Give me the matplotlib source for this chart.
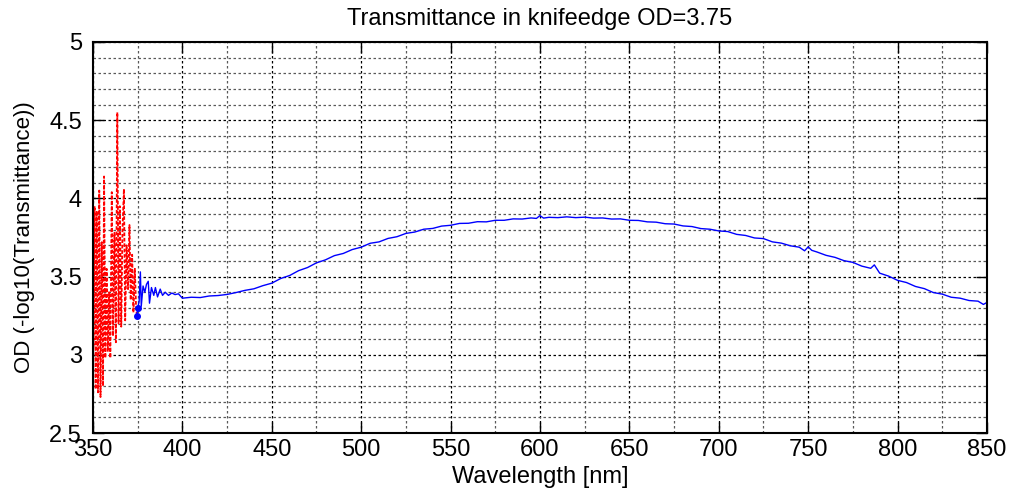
import matplotlib.pyplot as plt
from matplotlib.ticker import MultipleLocator, FormatStrFormatter

# datos leidos de la figura
# tramo rojo (ruido por debajo de ~375 nm)
rojo_wl = [350.3, 350.9, 351.5, 352.1, 352.8, 353.5, 354.2, 354.9, 355.6, 356.2,
           356.9, 357.6, 358.3, 359.0, 359.7, 360.5, 361.2, 362.0, 362.8, 363.6,
           364.3, 365.0, 365.8, 366.5, 367.3, 368.0, 368.8, 369.6, 370.4, 371.1,
           371.9, 372.6, 373.4, 374.1, 374.6]
rojo_od = [3.05, 3.95, 2.78, 3.92, 2.76, 4.05, 2.73, 3.72, 2.80, 4.14,
           2.98, 3.55, 3.02, 3.40, 2.98, 4.04, 3.12, 3.78, 3.08, 4.55,
           3.20, 3.95, 3.18, 3.80, 4.06, 3.22, 3.70, 3.42, 3.83, 3.35,
           3.64, 3.27, 3.55, 3.30, 3.25]

# tramo azul
azul_wl = [374.6, 375.0, 375.8, 376.5, 377.0, 378.0, 379.0, 379.9, 380.9, 381.6,
           382.7, 384.0, 384.9, 386.1, 387.6, 388.9, 390.4, 392.2, 394.1, 395.9,
           397.8, 400, 405, 410, 415, 420, 425, 430, 435, 440,
           445, 450, 455, 460, 465, 470, 475, 480, 485, 490,
           495, 500, 505, 510, 515, 520, 525, 530, 535, 540,
           545, 550, 555, 560, 565, 570, 575, 580, 585, 590,
           595, 598, 600, 602, 605, 610, 615, 620, 625, 630,
           635, 640, 645, 650, 655, 660, 665, 670, 675, 680,
           685, 690, 695, 700, 705, 710, 715, 720, 725, 730,
           735, 740, 745, 748, 750, 752, 755, 760, 765, 770,
           775, 780, 785, 787, 790, 795, 800, 805, 810, 815,
           820, 825, 830, 835, 840, 845, 848, 850]
azul_od = [3.25, 3.30, 3.34, 3.53, 3.31, 3.44, 3.40, 3.45, 3.47, 3.33,
           3.43, 3.38, 3.43, 3.37, 3.42, 3.38, 3.40, 3.38, 3.395, 3.385,
           3.39, 3.362, 3.368, 3.366, 3.376, 3.379, 3.386, 3.398, 3.412, 3.422,
           3.442, 3.458, 3.488, 3.507, 3.538, 3.558, 3.588, 3.607, 3.634, 3.648,
           3.673, 3.688, 3.713, 3.722, 3.744, 3.755, 3.776, 3.785, 3.803, 3.808,
           3.823, 3.828, 3.840, 3.841, 3.851, 3.850, 3.860, 3.860, 3.869, 3.868,
           3.875, 3.872, 3.890, 3.874, 3.879, 3.877, 3.882, 3.877, 3.880, 3.874,
           3.875, 3.868, 3.869, 3.860, 3.859, 3.850, 3.848, 3.838, 3.836, 3.824,
           3.820, 3.807, 3.803, 3.792, 3.788, 3.770, 3.763, 3.747, 3.743, 3.722,
           3.714, 3.697, 3.688, 3.665, 3.690, 3.668, 3.657, 3.636, 3.623, 3.602,
           3.591, 3.567, 3.553, 3.575, 3.522, 3.503, 3.476, 3.462, 3.437, 3.423,
           3.398, 3.388, 3.368, 3.362, 3.347, 3.343, 3.322, 3.335]

plt.rcParams['font.family'] = ['Liberation Sans', 'DejaVu Sans']

fig = plt.figure(figsize=(10.13, 4.98), dpi=100)
ax = fig.add_axes([0.0918, 0.1305, 0.8825, 0.7852])

ax.plot(rojo_wl, rojo_od, color='red', linestyle=(0, (2, 1)), lw=1.3)
ax.plot(azul_wl, azul_od, color='blue', lw=1.0)
# los dos primeros puntos se ven marcados
ax.plot(azul_wl[:2], azul_od[:2], 'o', color='blue', ms=4)

ax.set_xlim(350, 850)
ax.set_ylim(2.5, 5)
ax.xaxis.set_major_locator(MultipleLocator(50))
ax.xaxis.set_minor_locator(MultipleLocator(25))
ax.yaxis.set_major_locator(MultipleLocator(0.5))
ax.yaxis.set_minor_locator(MultipleLocator(0.1))
ax.yaxis.set_major_formatter(FormatStrFormatter('%g'))

ax.grid(which='major', color='black', linestyle=(0, (2, 2)), lw=0.9)
ax.grid(which='minor', color='0.35', linestyle=(0, (2, 2)), lw=0.9)
ax.set_axisbelow(True)

ax.tick_params(which='major', direction='in', length=8, width=1, top=True, right=True,
               labelsize=17)
ax.tick_params(axis='x', pad=4)
ax.tick_params(axis='y', pad=8)
ax.tick_params(which='minor', length=0)
for s in ax.spines.values():
    s.set_linewidth(1.5)

ax.set_title("Transmittance in knifeedge OD=3.75", fontsize=17, pad=12)
ax.set_xlabel("Wavelength [nm]", fontsize=17, labelpad=4)
ax.set_ylabel("OD (-log10(Transmittance))", fontsize=16, labelpad=10)

plt.savefig("out.png", dpi=100)
